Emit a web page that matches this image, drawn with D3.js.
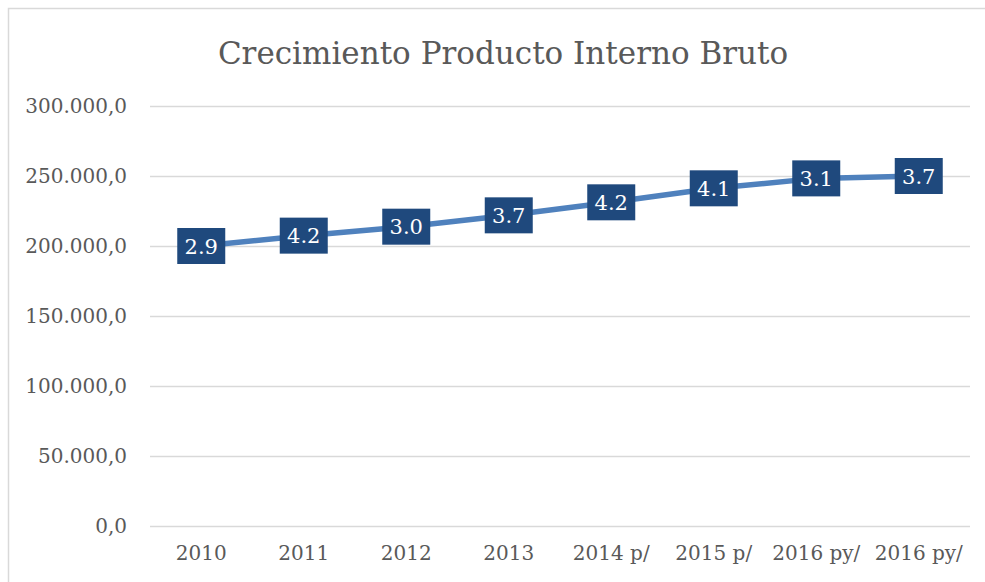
<!DOCTYPE html>
<html>
<head>
<meta charset="utf-8">
<script src="https://cdn.jsdelivr.net/npm/d3@7"></script>
<style>
  body { margin: 0; background: #fff; }
  svg { display: block; }
  text { font-family: "DejaVu Serif", "Liberation Serif", serif; fill: #595959; }
</style>
</head>
<body>
<div id="container"></div>
<script>
let w = 985;
let h = 582;

// datos
let years = ['2010', '2011', '2012', '2013', '2014 p/', '2015 p/', '2016 py/', '2016 py/'];
let pib = [200000, 207400, 213800, 221900, 231200, 241200, 248300, 250000];
let growth = ['2.9', '4.2', '3.0', '3.7', '4.2', '4.1', '3.1', '3.7'];
let yTicks = [0, 50000, 100000, 150000, 200000, 250000, 300000];

let margin = {top: 106, right: 15, bottom: 56, left: 150};

let es = d3.formatLocale({decimal: ',', thousands: '.', grouping: [3], currency: ['', '']});
let fmt = es.format(',.1f');

let svg = d3.select('#container').append('svg')
            .attr('width', w)
            .attr('height', h);

// marco del grafico
svg.append('rect')
   .attr('x', 8.5)
   .attr('y', 8.5)
   .attr('width', w + 20)
   .attr('height', h + 20)
   .attr('fill', 'none')
   .attr('stroke', '#d9d9d9')
   .attr('stroke-width', 1.5);

svg.append('text')
   .attr('x', 503)
   .attr('y', 64)
   .attr('text-anchor', 'middle')
   .style('font-size', '31px')
   .text('Crecimiento Producto Interno Bruto');

let x = d3.scaleBand()
          .domain(d3.range(years.length))
          .range([margin.left, w - margin.right]);

let y = d3.scaleLinear()
          .domain([0, 300000])
          .range([h - margin.bottom, margin.top]);

let yAxis = d3.axisLeft(y)
              .tickValues(yTicks)
              .tickFormat(fmt)
              .tickSize(-(w - margin.right - margin.left))
              .tickPadding(23);

let gy = svg.append('g')
            .attr('transform', 'translate(' + margin.left + ',0)')
            .call(yAxis);
gy.select('.domain').remove();
gy.selectAll('line').attr('stroke', '#d9d9d9').attr('stroke-width', 1.5);
gy.selectAll('text').style('font-size', '20px').attr('fill', '#595959');

let xAxis = d3.axisBottom(x)
              .tickFormat(i => years[i])
              .tickSize(0)
              .tickPadding(20);

let gx = svg.append('g')
            .attr('transform', 'translate(0,' + (h - margin.bottom) + ')')
            .call(xAxis);
gx.select('.domain').remove();
gx.selectAll('text').style('font-size', '20px').attr('fill', '#595959');

let cx = i => x(i) + x.bandwidth() / 2;

let line = d3.line()
             .x((d, i) => cx(i))
             .y(d => y(d));

svg.append('path')
   .datum(pib)
   .attr('d', line)
   .attr('fill', 'none')
   .attr('stroke', '#4f81bd')
   .attr('stroke-width', 5.5)
   .attr('stroke-linejoin', 'round');

let lbl = svg.append('g')
             .selectAll('g')
             .data(pib)
             .enter()
             .append('g')
             .attr('transform', (d, i) => 'translate(' + cx(i) + ',' + y(d) + ')');

lbl.append('rect')
   .attr('x', -24)
   .attr('y', -18)
   .attr('width', 48)
   .attr('height', 36)
   .attr('fill', '#1f497d');

lbl.append('text')
   .attr('text-anchor', 'middle')
   .attr('dy', '0.36em')
   .style('font-size', '21px')
   .style('fill', '#fff')
   .text((d, i) => growth[i]);
</script>
</body>
</html>
